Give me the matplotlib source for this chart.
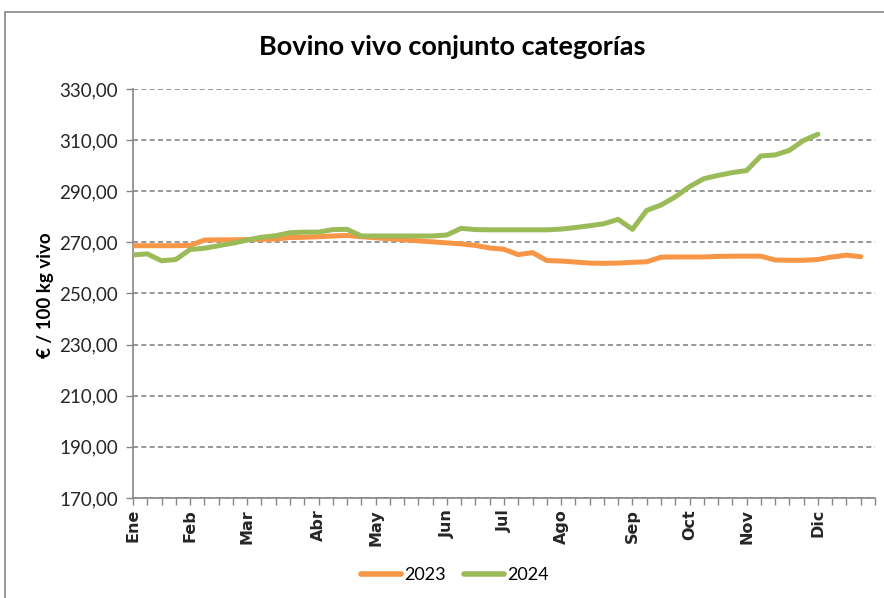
import matplotlib
matplotlib.use("Agg")
import matplotlib.pyplot as plt
from matplotlib.patches import Rectangle
import numpy as np

title = "Bovino vivo conjunto categorías"
ylabel = "€ / 100 kg vivo"
month_labels = ["Ene", "Feb", "Mar", "Abr", "May", "Jun", "Jul", "Ago", "Sep", "Oct", "Nov", "Dic"]
month_weeks = [0, 4, 8, 13, 17, 22, 26, 30, 35, 39, 43, 48]
n_weeks = 53

values_2023 = [268.7, 268.7, 268.7, 268.7, 268.8, 270.9, 271.0, 271.0, 271.1, 271.2,
               271.3, 271.9, 272.0, 272.2, 272.5, 272.7, 272.2, 271.8, 271.4, 271.0,
               270.6, 270.2, 269.8, 269.4, 268.8, 267.8, 267.3, 265.2, 266.0, 262.9,
               262.7, 262.3, 261.9, 261.8, 261.9, 262.2, 262.4, 264.2, 264.3, 264.3,
               264.3, 264.5, 264.6, 264.6, 264.6, 263.1, 263.0, 263.0, 263.3, 264.3,
               265.0, 264.4]
values_2024 = [265.1, 265.5, 262.8, 263.3, 267.2, 267.7, 268.7, 269.7, 270.9, 272.0,
               272.6, 273.8, 274.0, 274.0, 275.0, 275.1, 272.5, 272.5, 272.5, 272.5,
               272.5, 272.5, 272.9, 275.5, 275.0, 274.9, 274.9, 274.9, 274.9, 274.9,
               275.2, 275.8, 276.5, 277.3, 279.0, 275.1, 282.5, 284.6, 287.8, 291.8,
               294.9, 296.2, 297.3, 298.1, 303.8, 304.2, 306.0, 309.9, 312.3]
series_names = ["2023", "2024"]
colors = ["#F79646", "#9BBB59"]

plt.rcParams['font.family'] = ['Lato', 'DejaVu Sans']

W, H = 884, 598
fig = plt.figure(figsize=(W / 100, H / 100), dpi=100)
fig.patches.append(Rectangle((5 / W, -0.1), 1.2, (1 - 12 / H) + 0.1, transform=fig.transFigure,
                             fill=False, edgecolor="#868686", linewidth=1.2))

left, right, top, bottom = 133, 875, 89, 498
ax = fig.add_axes([left / W, 1 - bottom / H, (right - left) / W, (bottom - top) / H])

ax.plot(range(len(values_2023)), values_2023, color=colors[0], lw=3.6,
        solid_capstyle='round', solid_joinstyle='round', label=series_names[0], zorder=3)
ax.plot(range(len(values_2024)), values_2024, color=colors[1], lw=3.6,
        solid_capstyle='round', solid_joinstyle='round', label=series_names[1], zorder=4)

ax.set_xlim(0, n_weeks - 1)
ax.set_ylim(170, 330)
yt = np.arange(170, 331, 20)
ax.set_yticks(yt)
ax.set_yticklabels([f"{v:.2f}".replace(".", ",") for v in yt], fontsize=13.5, color="#262626")
ax.yaxis.grid(True, linestyle=(0, (3, 2)), color="#868686", linewidth=1.2)
ax.set_axisbelow(True)

ax.set_xticks(range(n_weeks), minor=True)
ax.set_xticks(month_weeks)
ax.set_xticklabels(month_labels, rotation=90, fontsize=11.5, fontweight='bold', color="#262626",
                   family=['DejaVu Sans'])
ax.tick_params(axis='x', which='both', length=5, width=1, color="#868686", direction='out', pad=3)
ax.tick_params(axis='y', length=5, width=1, color="#868686", direction='out', pad=6)

for s in ['top', 'right']:
    ax.spines[s].set_visible(False)
for s in ['left', 'bottom']:
    ax.spines[s].set_color("#868686")
    ax.spines[s].set_linewidth(1.2)

fig.text(452 / W, 1 - 47 / H, title, ha='center', va='center', fontsize=19.5, fontweight='bold', color="black")
fig.text(46 / W, 1 - 295 / H, ylabel, ha='center', va='center', rotation=90, fontsize=13.5,
         fontweight='bold', color="black")

leg = fig.legend(loc='center', bbox_to_anchor=(455 / W, 1 - 575 / H), ncol=2, frameon=False,
                 fontsize=13, handlelength=2.2, handletextpad=0.2, columnspacing=1.0)
for h in leg.legend_handles:
    h.set_linewidth(4)

fig.savefig("out.png", dpi=100)
